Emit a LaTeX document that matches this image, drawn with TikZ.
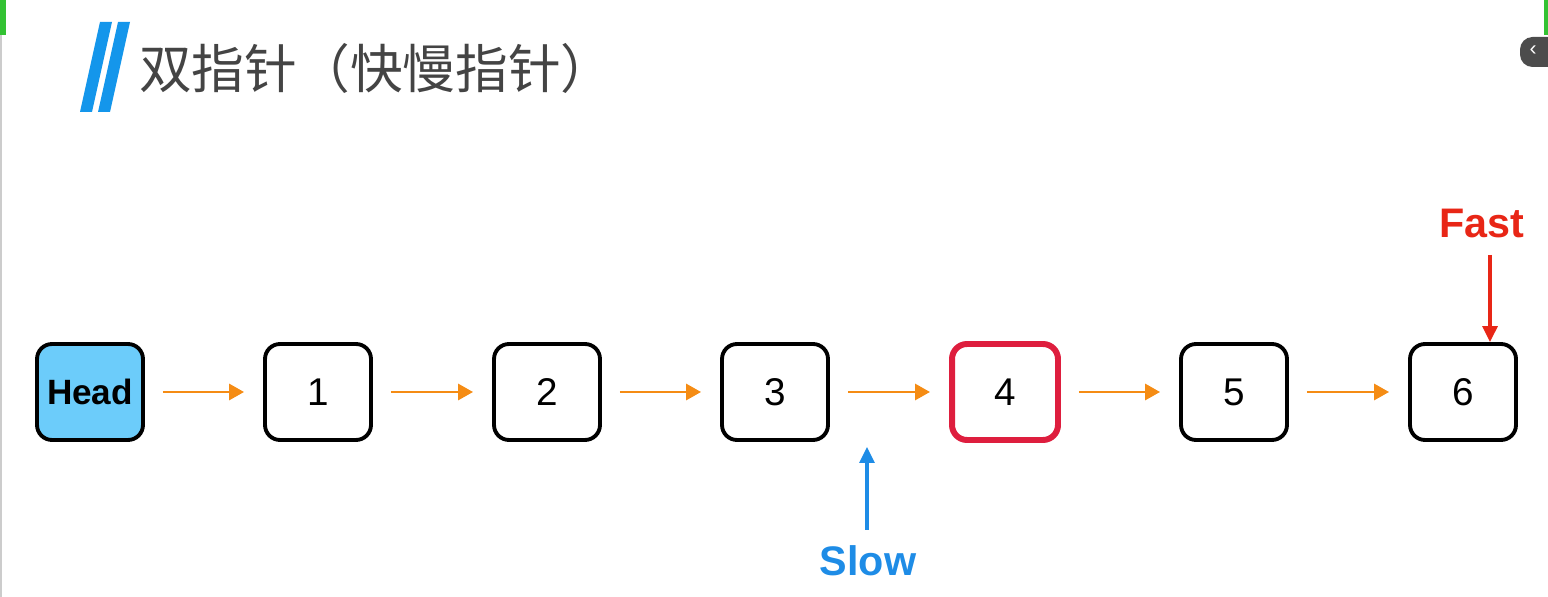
\documentclass[tikz,border=0pt]{standalone}
\usepackage{fontspec}
\setmainfont{Liberation Sans}
\newfontfamily\cjk{Noto Sans CJK SC}
\usetikzlibrary{arrows.meta}

\definecolor{headblue}{RGB}{108,204,250}
\definecolor{linkorange}{RGB}{245,140,20}
\definecolor{slowblue}{RGB}{30,140,230}
\definecolor{fastred}{RGB}{232,38,22}
\definecolor{markred}{RGB}{222,30,62}
\definecolor{titlegray}{RGB}{68,68,68}
\definecolor{barblue}{RGB}{20,150,235}

\tikzset{
	listnode/.style={shape=rectangle, rounded corners=0.3cm, draw=black, line width=2.2pt,
		minimum width=2.12cm, minimum height=1.92cm, font=\fontsize{22pt}{26pt}\selectfont},
	headnode/.style={listnode, fill=headblue, font=\fontsize{20pt}{24pt}\selectfont\bfseries},
	marknode/.style={listnode, draw=markred, line width=3.4pt},
	link/.style={-{Triangle[length=0.3cm,width=0.32cm]}, color=linkorange, line width=1.7pt,
		shorten <=0.36cm, shorten >=0.38cm},
	pointer/.style={-{Triangle[length=0.32cm,width=0.3cm]}, line width=1.8pt},
	pointerlabel/.style={font=\fontsize{23.5pt}{28pt}\selectfont\bfseries}
}

\begin{document}
\begin{tikzpicture}[x=0.02cm, y=-0.02cm]
	\useasboundingbox (0, 0) rectangle (1548, 597);
	
	% title
	\fill[barblue] (80, 112) -- (100, 22) -- (112, 22) -- (92, 112) -- cycle;
	\fill[barblue] (98, 112) -- (118, 22) -- (130, 22) -- (110, 112) -- cycle;
	\node[anchor=west, text=titlegray, font=\cjk\fontsize{30pt}{34pt}\selectfont] (title) at (133, 68) {双指针（快慢指针）};
	
	% screen edges
	\fill[black!20] (0, 35) rectangle (2, 597);
	\fill[green!70!black!80] (0, 0) rectangle (6, 35);
	\fill[green!70!black!80] (1544, 0) rectangle (1548, 35);
	\fill[black!70, rounded corners=0.25cm] (1520, 37) rectangle (1560, 67);
	\node[text=white, font=\fontsize{12pt}{14pt}\selectfont] (tab) at (1533, 51) {‹};
	
	% list
	\node[headnode] (head) at (90, 392)   {Head};
	\node[listnode] (n1) at (318, 392)    {1};
	\node[listnode] (n2) at (547, 392)    {2};
	\node[listnode] (n3) at (775, 392)    {3};
	\node[marknode] (n4) at (1005, 392)   {4};
	\node[listnode] (n5) at (1234, 392)   {5};
	\node[listnode] (n6) at (1463, 392)   {6};
	
	\path (head) edge[link] (n1);
	\path (n1) edge[link] (n2);
	\path (n2) edge[link] (n3);
	\path (n3) edge[link] (n4);
	\path (n4) edge[link] (n5);
	\path (n5) edge[link] (n6);
	
	% pointers
	\node[pointerlabel, text=slowblue] (slow) at (868, 561) {Slow};
	\coordinate (slowtip) at (867, 447);
	\draw[pointer, color=slowblue, shorten <=0.2cm] (slow.north -| slowtip) -- (slowtip);
	
	\node[pointerlabel, text=fastred] (fast) at (1482, 224) {Fast};
	\coordinate (fasttail) at (1490, 255);
	\draw[pointer, color=fastred] (fasttail) -- (fasttail |- n6.north);

\end{tikzpicture}
\end{document}
